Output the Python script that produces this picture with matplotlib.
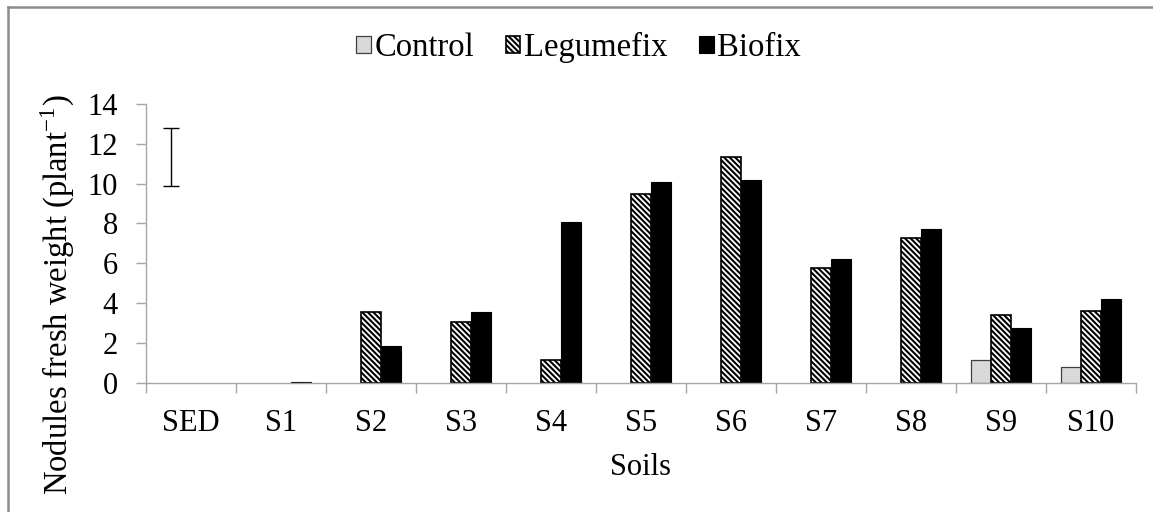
import numpy as np
import matplotlib.pyplot as plt
from matplotlib.lines import Line2D

# -----------------------------
# Data
# -----------------------------

soils = ["SED", "S1", "S2", "S3", "S4", "S5", "S6", "S7", "S8", "S9", "S10"]

control = [0, 0, 0, 0, 0, 0, 0, 0, 0, 1.15, 0.77]
legumefix = [0, 0, 3.53, 3.06, 1.15, 9.47, 11.34, 5.76, 7.25, 3.38, 3.58]
biofix = [0, 0.05, 1.86, 3.53, 8.08, 10.09, 10.2, 6.21, 7.7, 2.75, 4.21]

sed_mean = 11.34
sed_err = 1.46

# -----------------------------
# Figure setup
# -----------------------------

plt.rcParams['font.family'] = ['Liberation Serif', 'DejaVu Serif']
plt.rcParams['hatch.linewidth'] = 1.5
plt.rcParams['mathtext.fontset'] = 'stix'

W, H = 1153, 512
fig = plt.figure(figsize=(W / 100, H / 100), dpi=100)
ax = fig.add_axes([145.7 / W, 1 - 382.7 / H, 990 / W, (382.7 - 104) / H])

x = np.arange(len(soils))
w = 0.222


def nz(vals):
    # empty bars are not drawn in the original
    return np.where(np.array(vals) > 0, vals, np.nan)


ax.bar(x - w, nz(control), w, color="#d9d9d9", edgecolor="#404040", linewidth=0.9,
       label="Control")
ax.bar(x, nz(legumefix), w, color="white", edgecolor="black", linewidth=1.2,
       hatch="\\" * 6, label="Legumefix")
ax.bar(x + w, nz(biofix), w, color="black", edgecolor="black", linewidth=0.8,
       label="Biofix")

# SED bar
ax.errorbar(x[0] - w, sed_mean, yerr=sed_err, fmt="none", ecolor="black",
            elinewidth=1.0, capsize=6, capthick=1.0)

# -----------------------------
# Axes styling
# -----------------------------

ax.set_xlim(-0.5, len(soils) - 0.5)
ax.set_ylim(0, 14)
ax.set_yticks(np.arange(0, 15, 2))
ax.set_xticks(x)
ax.set_xticklabels(soils)
ax.set_xticks(np.arange(-0.5, len(soils), 1), minor=True)

for s in ["top", "right"]:
    ax.spines[s].set_visible(False)
for s in ["left", "bottom"]:
    ax.spines[s].set_color("#a6a6a6")
    ax.spines[s].set_linewidth(1.0)

ax.tick_params(axis="y", direction="out", length=7, width=1, color="#a6a6a6",
               labelsize=22, pad=13)
ax.tick_params(axis="x", which="major", length=0, labelsize=22, pad=19)
ax.tick_params(axis="x", which="minor", direction="out", length=7, width=1,
               color="#a6a6a6")

ax.set_xlabel("Soils", fontsize=22, labelpad=11)
ax.set_ylabel("Nodules fresh weight (plant$^{\\mathregular{-1}}$)", fontsize=23.5)
ax.yaxis.set_label_coords(-0.07, 0.315)

fig.legend(*ax.get_legend_handles_labels(), loc="upper center",
           bbox_to_anchor=(0.502, 1 - 19 / H), ncol=3, frameon=False, fontsize=23.5,
           handlelength=0.45, handleheight=0.45, handletextpad=0.12,
           columnspacing=0.95, borderaxespad=0)

# outer frame (only left and top edges visible)
fig.add_artist(Line2D([8 / W, 8 / W], [0, 1 - 7 / H], transform=fig.transFigure,
                      color="#8c8c8c", linewidth=1.8))
fig.add_artist(Line2D([8 / W, 1], [1 - 7 / H, 1 - 7 / H], transform=fig.transFigure,
                      color="#8c8c8c", linewidth=1.8))

fig.savefig("out.png", dpi=100)
